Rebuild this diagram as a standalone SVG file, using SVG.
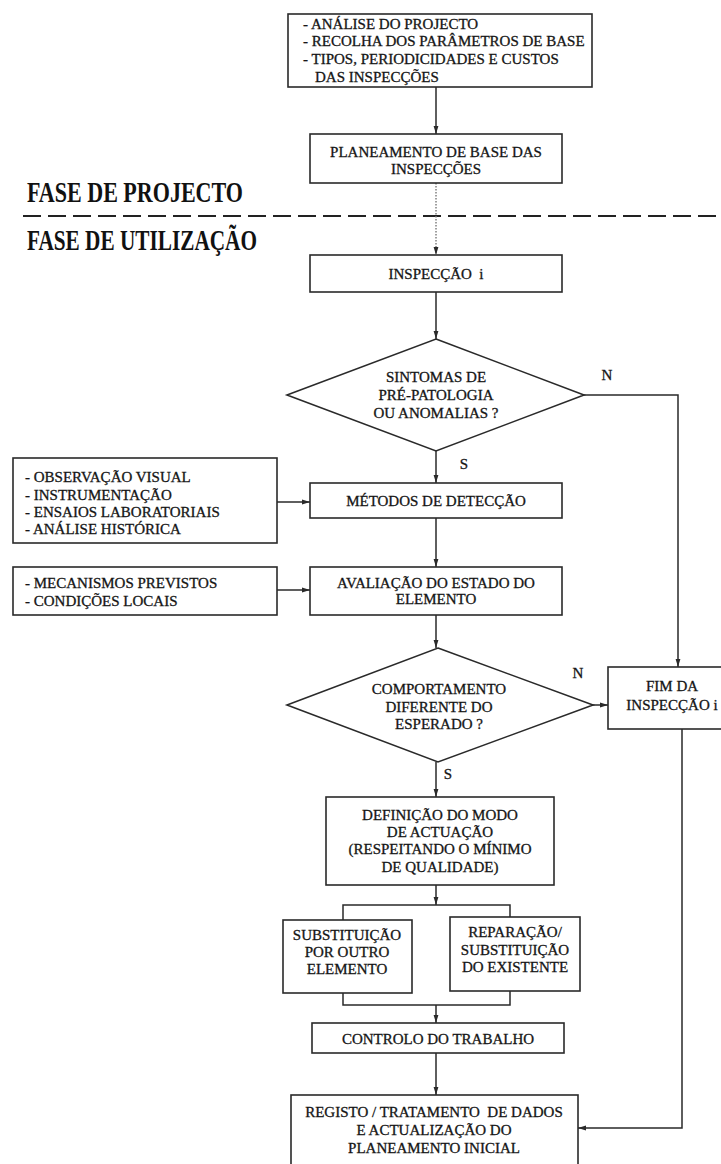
<svg xmlns="http://www.w3.org/2000/svg" width="721" height="1164" viewBox="0 0 721 1164">
  <style>
    .box { fill: #fff; stroke: #2a2a2a; stroke-width: 1.6; }
    .ln { fill: none; stroke: #2a2a2a; stroke-width: 1.5; }
    .arr { marker-end: url(#ah); }
    .t { font-family: "Liberation Serif", "Times New Roman", serif; font-size: 15px; fill: #151515; stroke: #151515; stroke-width: 0.3; white-space: pre; }
    .c { text-anchor: middle; }
    .phase { font-family: "Liberation Serif", "Times New Roman", serif; font-size: 29px; font-weight: bold; fill: #111; }
  </style>
  <defs>
    <marker id="ah" markerUnits="userSpaceOnUse" markerWidth="8" markerHeight="6" refX="8" refY="3" orient="auto">
      <path d="M0,0.6 L8,3 L0,5.4 Z" fill="#2a2a2a"/>
    </marker>
  </defs>

  <rect width="721" height="1164" fill="#fff"/>

  <!-- phase labels and separator -->
  <g id="phases">
    <text class="phase" x="27" y="202" textLength="216" lengthAdjust="spacingAndGlyphs">FASE DE PROJECTO</text>
    <line x1="23" y1="216" x2="721" y2="216" stroke="#222" stroke-width="2.2" stroke-dasharray="18 7"/>
    <text class="phase" x="27" y="250" textLength="230" lengthAdjust="spacingAndGlyphs">FASE DE UTILIZAÇÃO</text>
  </g>

  <!-- connectors -->
  <g id="connectors">
    <line class="ln arr" x1="436" y1="87" x2="436" y2="134"/>
    <line class="arr" x1="436" y1="183" x2="436" y2="255" stroke="#777" stroke-width="1.4" stroke-dasharray="1.5 1.5"/>
    <line class="ln arr" x1="436" y1="292" x2="436" y2="339"/>
    <line class="ln arr" x1="436" y1="451" x2="436" y2="483"/>
    <line class="ln arr" x1="277" y1="502" x2="310" y2="502"/>
    <line class="ln arr" x1="436" y1="518" x2="436" y2="567"/>
    <line class="ln arr" x1="277" y1="590" x2="310" y2="590"/>
    <line class="ln arr" x1="436" y1="615" x2="436" y2="648"/>
    <line class="ln arr" x1="436" y1="762" x2="436" y2="797"/>
    <polyline class="ln arr" points="584,395 678,395 678,667"/>
    <line class="ln arr" x1="593" y1="705" x2="608" y2="705"/>
    <line class="ln arr" x1="436" y1="885" x2="436" y2="905"/>
    <polyline class="ln" points="343,920 343,905 510,905 510,917"/>
    <polyline class="ln" points="343,993 343,1005 510,1005 510,991"/>
    <line class="ln arr" x1="436" y1="1005" x2="436" y2="1023"/>
    <line class="ln arr" x1="436" y1="1053" x2="436" y2="1095"/>
    <polyline class="ln arr" points="682,729 682,1128 578,1128"/>
    <text class="t c" x="607" y="380" font-size="14">N</text>
    <text class="t c" x="464" y="469" font-size="14">S</text>
    <text class="t c" x="578" y="678" font-size="14">N</text>
    <text class="t c" x="448" y="779" font-size="14">S</text>
  </g>

  <g id="analise">
    <rect class="box" x="288" y="14" width="304" height="73"/>
    <text class="t" x="303" y="29">- ANÁLISE DO PROJECTO</text>
    <text class="t" x="303" y="46">- RECOLHA DOS PARÂMETROS DE BASE</text>
    <text class="t" x="303" y="64">- TIPOS, PERIODICIDADES E CUSTOS</text>
    <text class="t" x="315" y="82">DAS INSPECÇÕES</text>
  </g>

  <g id="planeamento">
    <rect class="box" x="310" y="134" width="252" height="49"/>
    <text class="t c" x="436" y="157">PLANEAMENTO DE BASE DAS</text>
    <text class="t c" x="436" y="174">INSPECÇÕES</text>
  </g>

  <g id="inspeccao">
    <rect class="box" x="310" y="255" width="252" height="37"/>
    <text class="t c" x="436" y="279">INSPECÇÃO  i</text>
  </g>

  <g id="sintomas">
    <polygon class="box" points="436,339 584,395 436,451 287,395"/>
    <text class="t c" x="436" y="382">SINTOMAS DE</text>
    <text class="t c" x="436" y="400">PRÉ-PATOLOGIA</text>
    <text class="t c" x="436" y="418">OU ANOMALIAS ?</text>
  </g>

  <g id="metodos-lista">
    <rect class="box" x="13" y="458" width="264" height="85"/>
    <text class="t" x="25" y="482">- OBSERVAÇÃO VISUAL</text>
    <text class="t" x="25" y="500">- INSTRUMENTAÇÃO</text>
    <text class="t" x="25" y="517">- ENSAIOS LABORATORIAIS</text>
    <text class="t" x="25" y="534">- ANÁLISE HISTÓRICA</text>
  </g>

  <g id="metodos">
    <rect class="box" x="310" y="483" width="252" height="35"/>
    <text class="t c" x="436" y="506">MÉTODOS DE DETECÇÃO</text>
  </g>

  <g id="avaliacao-lista">
    <rect class="box" x="13" y="567" width="264" height="48"/>
    <text class="t" x="25" y="588">- MECANISMOS PREVISTOS</text>
    <text class="t" x="25" y="606">- CONDIÇÕES LOCAIS</text>
  </g>

  <g id="avaliacao">
    <rect class="box" x="310" y="567" width="252" height="48"/>
    <text class="t c" x="436" y="588">AVALIAÇÃO DO ESTADO DO</text>
    <text class="t c" x="436" y="604">ELEMENTO</text>
  </g>

  <g id="comportamento">
    <polygon class="box" points="438,648 593,705 438,762 287,705"/>
    <text class="t c" x="439" y="694">COMPORTAMENTO</text>
    <text class="t c" x="439" y="712">DIFERENTE DO</text>
    <text class="t c" x="439" y="729">ESPERADO ?</text>
  </g>

  <g id="fim">
    <rect class="box" x="608" y="667" width="120" height="62"/>
    <text class="t c" x="672" y="691">FIM DA</text>
    <text class="t c" x="672" y="710">INSPECÇÃO i</text>
  </g>

  <g id="definicao">
    <rect class="box" x="326" y="797" width="228" height="88"/>
    <text class="t c" x="440" y="820">DEFINIÇÃO DO MODO</text>
    <text class="t c" x="440" y="837">DE ACTUAÇÃO</text>
    <text class="t c" x="440" y="854">(RESPEITANDO O MÍNIMO</text>
    <text class="t c" x="440" y="872">DE QUALIDADE)</text>
  </g>

  <g id="substituicao">
    <rect class="box" x="283" y="920" width="129" height="73"/>
    <text class="t c" x="347" y="940">SUBSTITUIÇÃO</text>
    <text class="t c" x="347" y="957">POR OUTRO</text>
    <text class="t c" x="347" y="974">ELEMENTO</text>
  </g>

  <g id="reparacao">
    <rect class="box" x="450" y="917" width="130" height="74"/>
    <text class="t c" x="515" y="937">REPARAÇÃO/</text>
    <text class="t c" x="515" y="955">SUBSTITUIÇÃO</text>
    <text class="t c" x="515" y="972">DO EXISTENTE</text>
  </g>

  <g id="controlo">
    <rect class="box" x="312" y="1023" width="252" height="30"/>
    <text class="t c" x="438" y="1044">CONTROLO DO TRABALHO</text>
  </g>

  <g id="registo">
    <rect class="box" x="291" y="1095" width="287" height="80"/>
    <text class="t c" x="434" y="1117">REGISTO / TRATAMENTO  DE DADOS</text>
    <text class="t c" x="434" y="1135">E ACTUALIZAÇÃO DO</text>
    <text class="t c" x="434" y="1153">PLANEAMENTO INICIAL</text>
  </g>
</svg>
